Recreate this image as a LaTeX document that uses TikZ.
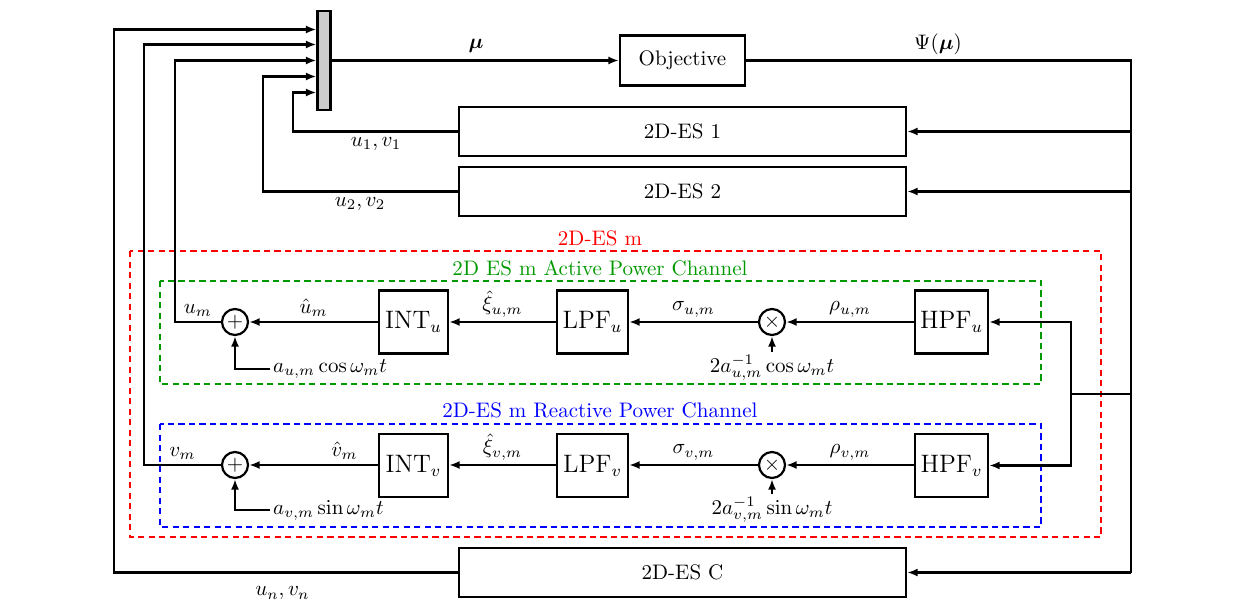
\documentclass[tikz,border=0pt]{standalone}
\usepackage{bm}
\usetikzlibrary{arrows.meta,calc}
\newcommand\pxu{0.476pt}
\definecolor{esred}{RGB}{255,0,0}
\definecolor{esgreen}{RGB}{0,153,0}
\definecolor{esblue}{RGB}{0,0,255}
\begin{document}
\begin{tikzpicture}[x=0.476pt,y=-0.476pt,
  line width=1.05pt,
  arr/.style={-{Latex[length=5pt,width=3.8pt]}},
  blk/.style={draw,minimum height=63*\pxu,inner sep=0pt,font=\large},
  wide/.style={draw,minimum width=447*\pxu,minimum height=49*\pxu,inner sep=0pt},
  sumnode/.style={draw,circle,minimum size=26*\pxu,inner sep=0pt},
  lbl/.style={above=1.9pt,inner sep=0pt},
  frame/.style={line width=1pt,dash pattern=on 3pt off 2pt},
]
\useasboundingbox (0,0) rectangle (1243,607);

% top blocks
\node[draw,fill=gray!40,minimum width=13*\pxu,minimum height=99*\pxu,inner sep=0pt] (mux) at (324,60.5) {};
\node[draw,minimum width=125*\pxu,minimum height=50*\pxu,inner sep=0pt] (obj) at (682.5,60.5) {Objective};
\node[wide] (es1) at (682.5,131.5) {2D-ES 1};
\node[wide] (es2) at (682.5,191.5) {2D-ES 2};
\node[wide] (esc) at (682.5,572.5) {2D-ES C};

% frames
\draw[frame,esred] (130,251) rectangle (1101,537);
\node[esred] (tred) at (600,238) {2D-ES m};
\draw[frame,esgreen] (160,281) rectangle (1041,384);
\node[esgreen] (tgreen) at (600,268) {2D ES m Active Power Channel};
\draw[frame,esblue] (160,424) rectangle (1041,527);
\node[esblue] (tblue) at (600,410) {2D-ES m Reactive Power Channel};

% active row
\node[sumnode] (sumu) at (235,322) {$+$};
\node[blk,minimum width=69*\pxu] (intu) at (413.5,322) {INT$_u$};
\node[blk,minimum width=71*\pxu] (lpfu) at (592.5,322) {LPF$_u$};
\node[sumnode] (mulu) at (772,322) {$\times$};
\node[blk,minimum width=73*\pxu] (hpfu) at (951.5,322) {HPF$_u$};
\node[anchor=west,inner sep=1pt] (au) at (270,369) {$a_{u,m}\cos\omega_m t$};
\node[inner sep=1pt] (cu) at (772,368) {$2a_{u,m}^{-1}\cos\omega_m t$};

% reactive row
\node[sumnode] (sumv) at (235,465) {$+$};
\node[blk,minimum width=69*\pxu] (intv) at (413.5,465.5) {INT$_v$};
\node[blk,minimum width=71*\pxu] (lpfv) at (592.5,465.5) {LPF$_v$};
\node[sumnode] (mulv) at (772,465) {$\times$};
\node[blk,minimum width=73*\pxu] (hpfv) at (951.5,465.5) {HPF$_v$};
\node[anchor=west,inner sep=1pt] (av) at (270,510) {$a_{v,m}\sin\omega_m t$};
\node[inner sep=1pt] (cv) at (772,510) {$2a_{v,m}^{-1}\sin\omega_m t$};

% row connectors
\draw[arr] (hpfu.west |- mulu) -- node[lbl]{$\rho_{u,m}$} (mulu.east);
\draw[arr] (mulu.west) -- node[lbl]{$\sigma_{u,m}$} (lpfu.east |- mulu);
\draw[arr] (lpfu.west |- mulu) -- node[lbl]{$\hat{\xi}_{u,m}$} (intu.east |- mulu);
\draw[arr] (intu.west |- sumu) -- node[lbl]{$\hat{u}_m$} (sumu.east);
\draw[arr] (au.west) -| (sumu.south);
\draw[arr] (cu.north) -- (mulu.south);

\draw[arr] (hpfv.west |- mulv) -- node[lbl]{$\rho_{v,m}$} (mulv.east);
\draw[arr] (mulv.west) -- node[lbl]{$\sigma_{v,m}$} (lpfv.east |- mulv);
\draw[arr] (lpfv.west |- mulv) -- node[lbl]{$\hat{\xi}_{v,m}$} (intv.east |- mulv);
\draw[arr] (intv.west |- sumv) -- node[lbl,pos=0.26]{$\hat{v}_m$} (sumv.east);
\draw[arr] (av.west) -| (sumv.south);
\draw[arr] (cv.north) -- (mulv.south);

% mux inputs
\path (mux.west) ++(0,-31) coordinate (m1);
\path (mux.west) ++(0,-16) coordinate (m2);
\path (mux.west) coordinate (m3);
\path (mux.west) ++(0,16) coordinate (m4);
\path (mux.west) ++(0,32) coordinate (m5);
\draw[arr] (esc.west) -- node[below=3pt,pos=0.51]{$u_n,v_n$} ++(-344,0) |- (m1);
\draw[arr] (sumv.west) -- node[lbl]{$v_m$} ++(-77,0) |- (m2);
\draw[arr] (sumu.west) -- node[lbl]{$u_m$} ++(-46,0) |- (m3);
\draw[arr] (es2.west) -- ++(-195,0) |- (m4);
\draw[arr] (es1.west) -- ++(-165,0) |- (m5);
\node (l1) at (376,144) {$u_1,v_1$};
\node (l2) at (360,204) {$u_2,v_2$};

% mu
\draw[arr] (mux.east) -- (obj.west);
\node (lmu) at (476,46) {$\bm{\mu}$};
\node (lpsi) at (938,44) {$\Psi(\bm{\mu})$};

% feedback
\coordinate (fbt) at (1131,60.5);
\coordinate (fbb) at (1131,572.5);
\draw (obj.east) -- (fbt) -- (fbb);
\draw[arr] (fbb) -- (esc.east);
\draw[arr] (es1.east -| fbt) -- (es1.east);
\draw[arr] (es2.east -| fbt) -- (es2.east);
\coordinate (br) at (1131,394);
\coordinate (sp) at (1071,394);
\draw (br) -- (sp);
\draw[arr] (sp) |- (hpfu.east);
\draw[arr] (sp) |- (hpfv.east);
\end{tikzpicture}
\end{document}
